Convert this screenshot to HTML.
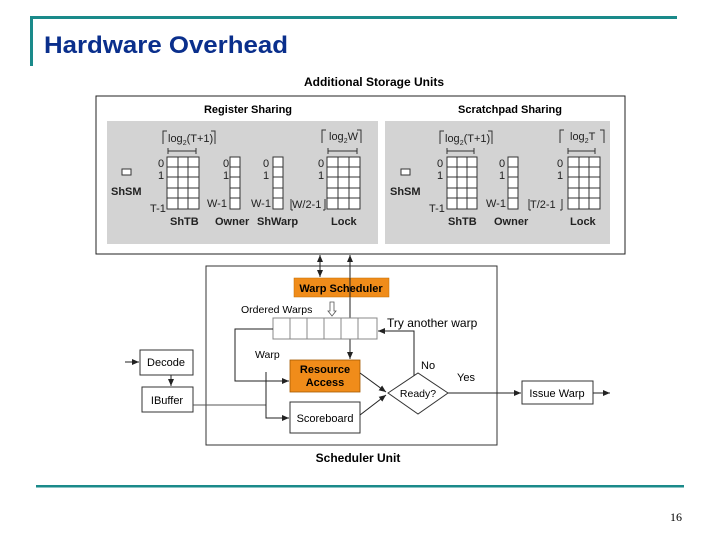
<!DOCTYPE html>
<html><head><meta charset="utf-8"><style>
html,body{margin:0;padding:0;background:#fff;}
svg{display:block;font-family:"Liberation Sans",sans-serif;}
</style></head><body>
<svg width="720" height="540" viewBox="0 0 720 540" xmlns="http://www.w3.org/2000/svg">
<defs>
<marker id="a" markerWidth="8" markerHeight="8" refX="7" refY="4" orient="auto" markerUnits="userSpaceOnUse"><path d="M0,1 L7,4 L0,7 z" fill="#222"/></marker>
</defs>
<!-- header -->
<rect x="30" y="16" width="647" height="3" fill="#1a8a8a"/>
<rect x="30" y="16" width="3" height="50" fill="#1a8a8a"/>
<text x="44" y="53" font-size="24" font-weight="bold" fill="#0a2f8c" textLength="244" lengthAdjust="spacingAndGlyphs">Hardware Overhead</text>
<rect x="36" y="485" width="648" height="2.5" fill="#1a8a8a"/>
<text x="670" y="521" font-size="12" font-family="Liberation Serif,serif">16</text>

<text x="374" y="86" font-size="12" font-weight="bold" text-anchor="middle">Additional Storage Units</text>
<rect x="96" y="96" width="529" height="158" fill="#fff" stroke="#222" stroke-width="1"/>
<text x="248" y="113" font-size="11" font-weight="bold" text-anchor="middle">Register Sharing</text>
<text x="510" y="113" font-size="11" font-weight="bold" text-anchor="middle">Scratchpad Sharing</text>
<rect x="107" y="121" width="271" height="123" fill="#d3d3d3"/>
<rect x="385" y="121" width="225" height="123" fill="#d3d3d3"/>

<g font-size="11" fill="#222">
<rect x="122" y="169" width="9" height="6" fill="#fff" stroke="#333"/>
<text x="111" y="195" font-weight="bold">ShSM</text>
<g stroke="#333" fill="#fff">
<rect x="167" y="157" width="32" height="52"/>
<path d="M178,157V209M188,157V209M167,167H199M167,177H199M167,188H199M167,198H199" fill="none"/>
<rect x="230" y="157" width="10" height="52"/>
<path d="M230,167H240M230,177H240M230,188H240M230,198H240" fill="none"/>
<rect x="273" y="157" width="10" height="52"/>
<path d="M273,167H283M273,177H283M273,188H283M273,198H283" fill="none"/>
<rect x="327" y="157" width="33" height="52"/>
<path d="M338,157V209M349,157V209M327,167H360M327,177H360M327,188H360M327,198H360" fill="none"/>
</g>
<text x="158" y="167">0</text><text x="158" y="179">1</text><text x="150" y="212">T-1</text>
<text x="223" y="167">0</text><text x="223" y="179">1</text><text x="207" y="207">W-1</text>
<text x="263" y="167">0</text><text x="263" y="179">1</text><text x="251" y="207">W-1</text>
<text x="318" y="167">0</text><text x="318" y="179">1</text>
<text x="292" y="208">W/2-1</text>
<path d="M291,210V199M291,210H293M325,210V199M323,210H325" stroke="#333" fill="none"/>
<text x="168" y="142">log<tspan font-size="7" dy="3">2</tspan><tspan dy="-3">(T+1)</tspan></text>
<path d="M163,144V131H167M215,144V131H211" stroke="#333" fill="none"/>
<path d="M168,151H196M168,148V154M196,148V154" stroke="#333" fill="none"/>
<text x="329" y="140">log<tspan font-size="7" dy="3">2</tspan><tspan dy="-3">W</tspan></text>
<path d="M322,143V130H326M361,143V130H357" stroke="#333" fill="none"/>
<path d="M328,151H357M328,148V154M357,148V154" stroke="#333" fill="none"/>
<text x="170" y="225" font-weight="bold">ShTB</text>
<text x="215" y="225" font-weight="bold">Owner</text>
<text x="257" y="225" font-weight="bold">ShWarp</text>
<text x="331" y="225" font-weight="bold">Lock</text>

<rect x="401" y="169" width="9" height="6" fill="#fff" stroke="#333"/>
<text x="390" y="195" font-weight="bold">ShSM</text>
<g stroke="#333" fill="#fff">
<rect x="447" y="157" width="30" height="52"/>
<path d="M457,157V209M467,157V209M447,167H477M447,177H477M447,188H477M447,198H477" fill="none"/>
<rect x="508" y="157" width="10" height="52"/>
<path d="M508,167H518M508,177H518M508,188H518M508,198H518" fill="none"/>
<rect x="568" y="157" width="32" height="52"/>
<path d="M579,157V209M589,157V209M568,167H600M568,177H600M568,188H600M568,198H600" fill="none"/>
</g>
<text x="437" y="167">0</text><text x="437" y="179">1</text><text x="429" y="212">T-1</text>
<text x="499" y="167">0</text><text x="499" y="179">1</text><text x="486" y="207">W-1</text>
<text x="557" y="167">0</text><text x="557" y="179">1</text>
<text x="530" y="208">T/2-1</text>
<path d="M529,210V199M529,210H531M562,210V199M560,210H562" stroke="#333" fill="none"/>
<text x="445" y="142">log<tspan font-size="7" dy="3">2</tspan><tspan dy="-3">(T+1)</tspan></text>
<path d="M440,144V131H444M492,144V131H488" stroke="#333" fill="none"/>
<path d="M447,151H474M447,148V154M474,148V154" stroke="#333" fill="none"/>
<text x="570" y="140">log<tspan font-size="7" dy="3">2</tspan><tspan dy="-3">T</tspan></text>
<path d="M560,143V130H564M604,143V130H600" stroke="#333" fill="none"/>
<path d="M568,151H595M568,148V154M595,148V154" stroke="#333" fill="none"/>
<text x="448" y="225" font-weight="bold">ShTB</text>
<text x="494" y="225" font-weight="bold">Owner</text>
<text x="570" y="225" font-weight="bold">Lock</text>
</g>

<rect x="206" y="266" width="291" height="179" fill="#fff" stroke="#333"/>
<g stroke="#222" stroke-width="1" fill="none">
<line x1="320" y1="262" x2="320" y2="277" marker-end="url(#a)"/>
<line x1="320" y1="266" x2="320" y2="255" marker-end="url(#a)"/>
<line x1="350" y1="262" x2="350" y2="359" marker-end="url(#a)"/>
<line x1="350" y1="266" x2="350" y2="255" marker-end="url(#a)"/>
</g>
<rect x="294" y="278" width="95" height="19" fill="#f08c1a" stroke="#c06a00" stroke-width="0.5"/>
<text x="341" y="292" font-size="11" font-weight="bold" text-anchor="middle">Warp Scheduler</text>
<line x1="350" y1="278" x2="350" y2="297" stroke="#222"/>
<text x="241" y="313" font-size="10.5">Ordered Warps</text>
<path d="M330,302V311H328L332,316L336,311H334V302Z" fill="#fff" stroke="#555" stroke-width="0.8"/>
<rect x="273" y="318" width="104" height="21" fill="#fff" stroke="#888"/>
<path d="M290,318V339M307,318V339M324,318V339M341,318V339M358,318V339" stroke="#888"/>
<text x="387" y="327" font-size="12">Try another warp</text>
<text x="255" y="358" font-size="10.5">Warp</text>
<rect x="290" y="360" width="70" height="32" fill="#f08c1a" stroke="#a55a00" stroke-width="0.8"/>
<text x="325" y="373" font-size="11" font-weight="bold" text-anchor="middle">Resource</text>
<text x="325" y="386" font-size="11" font-weight="bold" text-anchor="middle">Access</text>
<rect x="290" y="402" width="70" height="31" fill="#fff" stroke="#333"/>
<text x="325" y="422" font-size="11" text-anchor="middle">Scoreboard</text>
<path d="M388,393L418,373L448,393L418,414Z" fill="#fff" stroke="#333"/>
<text x="418" y="397" font-size="10.5" text-anchor="middle">Ready?</text>
<text x="421" y="369" font-size="11">No</text>
<text x="457" y="381" font-size="11">Yes</text>
<rect x="140" y="350" width="53" height="25" fill="#fff" stroke="#333"/>
<text x="166" y="366" font-size="11" text-anchor="middle">Decode</text>
<rect x="142" y="387" width="51" height="25" fill="#fff" stroke="#333"/>
<text x="167" y="404" font-size="11" text-anchor="middle">IBuffer</text>
<rect x="522" y="381" width="71" height="23" fill="#fff" stroke="#333"/>
<text x="557" y="397" font-size="11" text-anchor="middle">Issue Warp</text>
<g stroke="#222" stroke-width="1" fill="none">
<line x1="125" y1="362" x2="139" y2="362" marker-end="url(#a)"/>
<line x1="171" y1="375" x2="171" y2="386" marker-end="url(#a)"/>
<line x1="193" y1="405" x2="266" y2="405" stroke="#555"/>
<polyline points="273,329 235,329 235,381 266,381"/>
<line x1="266" y1="381" x2="289" y2="381" marker-end="url(#a)"/>
<polyline points="266,372 266,418 289,418" marker-end="url(#a)"/>
<line x1="360" y1="373" x2="386" y2="392" marker-end="url(#a)"/>
<line x1="360" y1="415" x2="386" y2="395" marker-end="url(#a)"/>
<polyline points="414,376 414,331 378,331" marker-end="url(#a)"/>
<line x1="448" y1="393" x2="521" y2="393" marker-end="url(#a)"/>
<line x1="593" y1="393" x2="610" y2="393" marker-end="url(#a)"/>
</g>
<text x="358" y="462" font-size="12" font-weight="bold" text-anchor="middle">Scheduler Unit</text>
</svg>
</body></html>
